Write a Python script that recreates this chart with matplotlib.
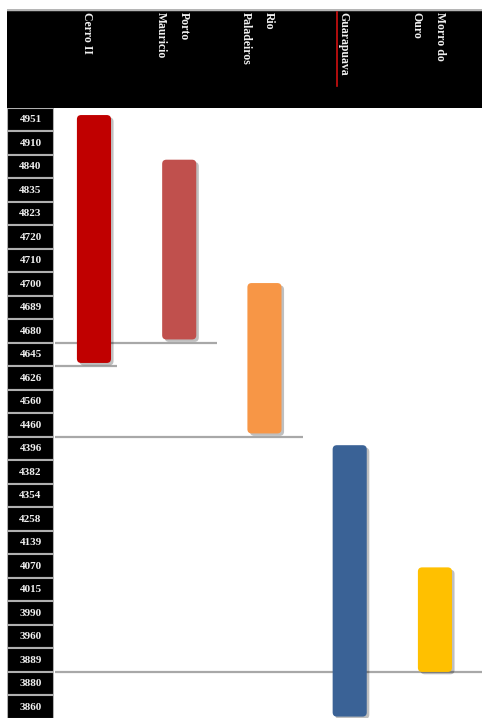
import matplotlib.pyplot as plt
from matplotlib.patches import FancyBboxPatch
from matplotlib.transforms import blended_transform_factory

# row labels of the left column (top to bottom)
tick_labels = [4951, 4910, 4840, 4835, 4823, 4720, 4710, 4700, 4689, 4680,
               4645, 4626, 4560, 4460, 4396, 4382, 4354, 4258, 4139, 4070,
               4015, 3990, 3960, 3889, 3880, 3860]

# columns
sites = ['Cerro II', 'Porto\nMauricio', 'Rio\nPaladeiros', 'Guarapuava', 'Morro do\nOuro']
colors = ['#C00000', '#C0504D', '#F79646', '#3A6296', '#FFC000']
# bar spans in row units of the left column (0 = first row)
bar_top = [-0.2, 1.7, 6.95, 13.85, 19.05]
bar_bottom = [10.35, 9.35, 13.35, 25.4, 23.5]

# grey reference lines: row boundary and how far right they go
ref_rows = [9.5, 10.5, 13.5, 23.5]
ref_end = [1.44, 0.27, 2.45, 4.55]

W, H = 482, 718
fig = plt.figure(figsize=(W / 100, H / 100), dpi=100)
fig.patch.set_facecolor('white')

top_px = 108
ylo, yhi = 25.46, -0.5
xlo, xhi = -0.457, 4.552

# header band
hdr = fig.add_axes([7 / W, (H - top_px) / H, (W - 7) / W, 99 / H])
hdr.set_facecolor('black')
hdr.set_xticks([])
hdr.set_yticks([])
for s in hdr.spines.values():
    s.set_visible(False)
hdr.axhline(1.0, color='#b5b5b5', lw=2.5)

# left label column
lab = fig.add_axes([7 / W, 0, 47 / W, (H - top_px) / H])
lab.set_ylim(ylo, yhi)
lab.set_xlim(0, 1)
lab.barh(range(len(tick_labels)), 1, left=0, height=1, color='black',
         edgecolor='#b0b0b0', linewidth=1.5)
for i, t in enumerate(tick_labels):
    lab.text(0.5, i, str(t), color='#f0f0f0', fontsize=8, fontweight='bold',
             family='Liberation Serif', ha='center', va='center')
lab.axis('off')

# main area
ax = fig.add_axes([55 / W, 0, (W - 55) / W, (H - top_px) / H])
ax.set_xlim(xlo, xhi)
ax.set_ylim(ylo, yhi)
ax.axis('off')

for r, e in zip(ref_rows, ref_end):
    ax.plot([xlo, e], [r, r], color='#a8a8a8', lw=1.6, zorder=1, solid_capstyle='butt')

bw = 0.40
asp = (xhi - xlo) / (W - 55) / ((ylo - yhi) / (H - top_px))
for i, (t, b, c) in enumerate(zip(bar_top, bar_bottom, colors)):
    sh = FancyBboxPatch((i - bw / 2 + 0.03, t + 0.1), bw, b - t,
                        boxstyle='round,pad=0,rounding_size=0.05',
                        mutation_aspect=1 / asp, fc='black', ec='none',
                        alpha=0.25, zorder=2)
    ax.add_patch(sh)
    p = FancyBboxPatch((i - bw / 2, t), bw, b - t,
                       boxstyle='round,pad=0,rounding_size=0.05',
                       mutation_aspect=1 / asp, fc=c, ec='none', zorder=3)
    ax.add_patch(p)

# header labels, rotated
tr = blended_transform_factory(ax.transData, hdr.transAxes)
for i, s in enumerate(sites):
    ax.text(i - 0.08, 0.965, s, transform=tr, rotation=270, color='#f0f0f0',
            fontsize=8.5, fontweight='bold', family='Liberation Serif',
            ha='center', va='top', multialignment='left', linespacing=2.2,
            clip_on=False)
# spell-check style red underline under Guarapuava
ax.plot([3 - 0.08 - 0.065] * 2, [0.97, 0.22], transform=tr, color='#d01010',
        lw=1.2, clip_on=False)

fig.savefig('out.png', dpi=100)
